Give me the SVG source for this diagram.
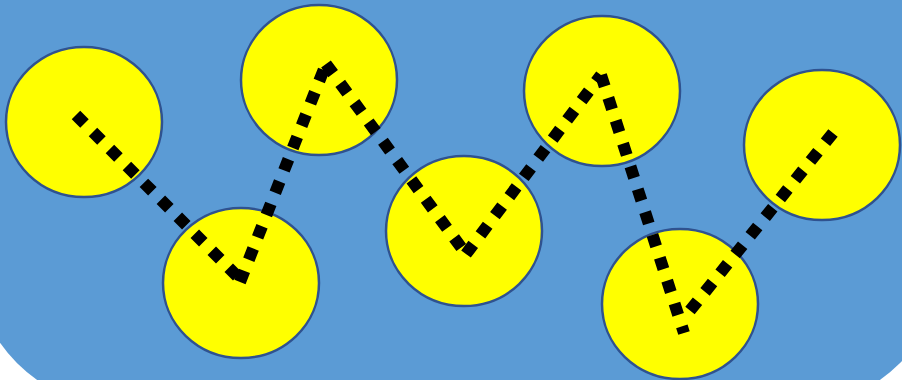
<svg xmlns="http://www.w3.org/2000/svg" width="902" height="380" viewBox="0 0 902 380">
<style>
.node ellipse{fill:#FFFF00;stroke:#2F528F;stroke-width:2.5}
.conn{fill:none;stroke:#000;stroke-width:12;stroke-dasharray:12 12;stroke-linecap:butt}
</style>
<rect width="902" height="380" fill="#FFFFFF"/>
<rect id="background" x="-27" y="-200" width="971" height="607" rx="150" ry="150" fill="#5B9BD5"/>
<g id="n1" class="node"><ellipse cx="84" cy="122" rx="78" ry="75"/></g>
<g id="n2" class="node"><ellipse cx="241" cy="283" rx="78" ry="75"/></g>
<g id="n3" class="node"><ellipse cx="319" cy="80" rx="78" ry="75"/></g>
<g id="n4" class="node"><ellipse cx="464" cy="231" rx="78" ry="75"/></g>
<g id="n5" class="node"><ellipse cx="602" cy="91" rx="78" ry="75"/></g>
<g id="n6" class="node"><ellipse cx="680" cy="304" rx="78" ry="75"/></g>
<g id="n7" class="node"><ellipse cx="822" cy="145" rx="78" ry="75"/></g>
<g id="connectors">
<line class="conn" x1="76" y1="115" x2="240" y2="279"/>
<line class="conn" x1="240" y1="282" x2="326" y2="64"/>
<line class="conn" x1="326" y1="64" x2="466" y2="254"/>
<line class="conn" x1="466" y1="254" x2="601" y2="75"/>
<line class="conn" x1="601" y1="75" x2="684" y2="333"/>
<line class="conn" x1="833" y1="133" x2="684" y2="318"/>
</g>
</svg>
